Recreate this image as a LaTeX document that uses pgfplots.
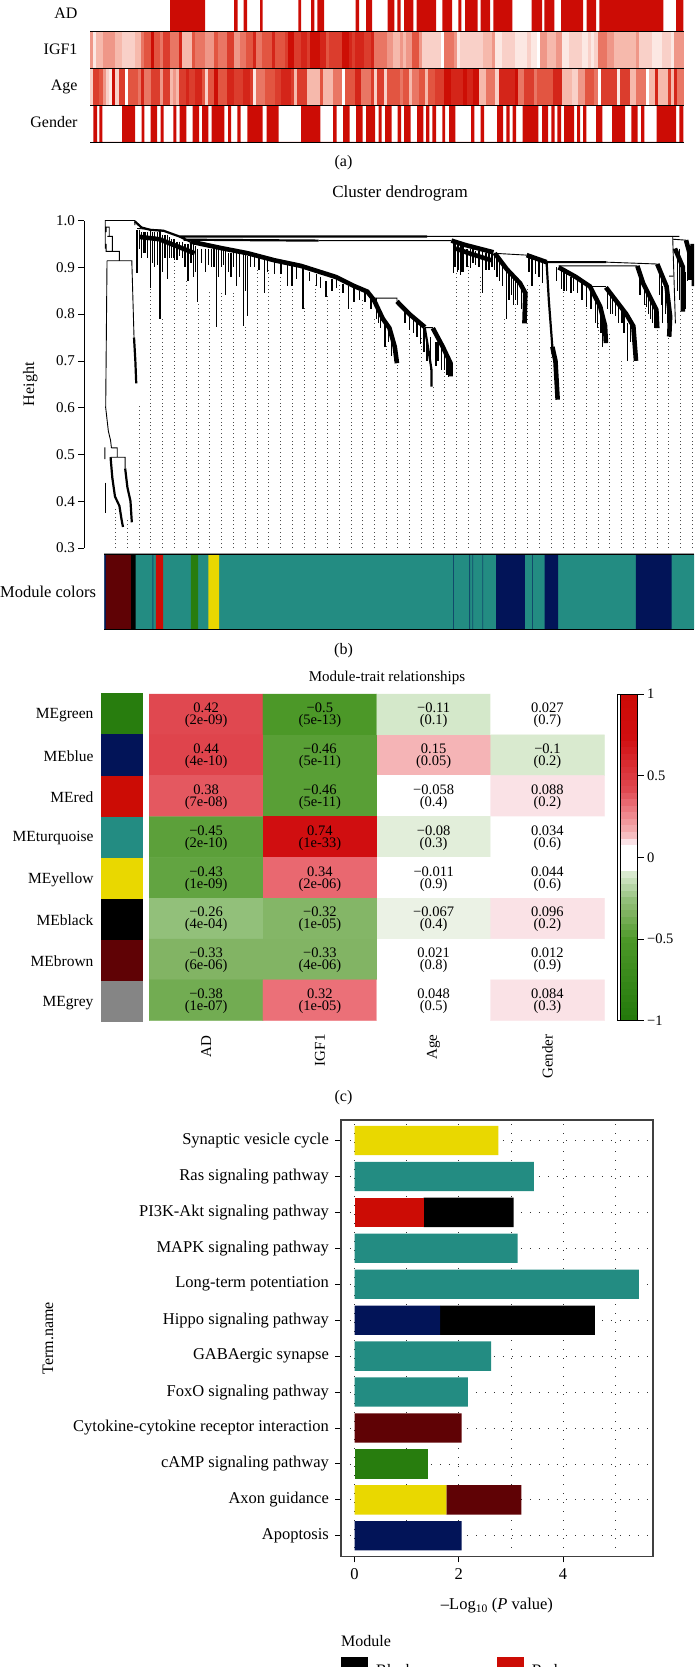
\documentclass[border=0pt]{standalone}
\usepackage{fontspec}
\setmainfont{Liberation Serif}
\usepackage{pgfplots}
\pgfplotsset{compat=1.18}
\definecolor{cred}{RGB}{204,12,5}
\definecolor{cturq}{RGB}{35,140,130}
\definecolor{cnavy}{RGB}{2,20,88}
\definecolor{cgreen}{RGB}{40,125,14}
\definecolor{cyell}{RGB}{233,216,0}
\definecolor{cbrown}{RGB}{95,2,5}
\definecolor{cgrey}{RGB}{133,133,133}
\newcommand\fs[1]{\fontsize{#1}{#1}\selectfont}
\pgfdeclareplotmark{cell}{\pgfpathrectangle{\pgfpoint{-1.75pt}{-18pt}}{\pgfpoint{3.5pt}{36pt}}\pgfusepathqfill}
\pgfplotsset{
 strip/.style={scale only axis,width=594pt,height=36pt,xmin=90,xmax=684,ymin=0,ymax=1,hide axis,clip=true},
 stripc/.style={scale only axis,width=594pt,height=36pt,xmin=-0.5,xmax=185.5,ymin=0,ymax=1,hide axis,
   colormap={wr}{rgb255(0pt)=(255,255,255); rgb255(3pt)=(246,185,172); rgb255(6pt)=(226,85,65); rgb255(9pt)=(205,14,5)},point meta min=0,point meta max=9},
 cellplot/.style={scatter,only marks,mark=cell,point meta=explicit,scatter/use mapped color={draw=none,fill=mapped color}},
}
\begin{document}
\begin{tikzpicture}[x=1pt,y=1pt]
\path[use as bounding box] (0,0) rectangle (694,-1667);
\clip (0,0) rectangle (694,-1667);
% ---------------- panel a
\begin{axis}[strip,height=32pt,at={(90pt,-32pt)}]
\addplot[const plot,fill=cred,draw=none] coordinates {(170,1)(205,0)(234,1)(237.7,0)(243.7,1)(247,0)(260,1)(262.7,0)(298.3,1)(301,0)(311,1)(314.3,0)(317.3,1)(324,0)(355.7,1)(359,0)(366,1)(372,0)(387.7,1)(394.3,0)(397.3,1)(400.7,0)(404,1)(413.3,0)(416.7,1)(436,0)(442.3,1)(452,0)(458.3,1)(461.3,0)(465,1)(477.7,0)(480.7,1)(490,0)(493.3,1)(512.3,0)(531.7,1)(542,0)(544.3,1)(554.3,0)(561,1)(583,0)(586.7,1)(596,0)(599.3,1)(663.3,0)(676,1)(683.3,0)} \closedcycle;
\end{axis}
\begin{axis}[stripc,at={(90pt,-68.5pt)}]
\addplot[cellplot] table[x expr=\coordindex,y expr=0.5,meta index=0,header=false,row sep=\\]{4\\1\\3\\3\\4\\4\\4\\4\\3\\3\\2\\2\\2\\2\\3\\3\\5\\6\\6\\9\\6\\6\\5\\7\\7\\5\\5\\5\\8\\3\\3\\3\\6\\5\\5\\5\\4\\4\\4\\6\\5\\5\\5\\7\\7\\4\\4\\5\\5\\6\\6\\8\\5\\5\\6\\6\\6\\8\\6\\6\\6\\7\\9\\9\\7\\7\\8\\8\\7\\9\\9\\9\\8\\8\\6\\7\\7\\7\\7\\9\\9\\8\\7\\8\\8\\8\\7\\7\\8\\5\\5\\5\\5\\4\\4\\3\\3\\4\\3\\4\\4\\6\\6\\4\\2\\2\\2\\2\\2\\2\\0\\5\\5\\5\\4\\1\\2\\2\\2\\2\\2\\2\\2\\3\\3\\3\\4\\1\\1\\2\\2\\2\\2\\1\\1\\1\\1\\2\\1\\1\\0\\4\\4\\3\\3\\3\\4\\4\\1\\1\\2\\2\\2\\2\\1\\1\\2\\1\\2\\5\\5\\5\\4\\4\\3\\3\\3\\3\\3\\3\\3\\4\\2\\2\\2\\2\\1\\1\\1\\2\\2\\2\\1\\4\\4\\4\\};
\end{axis}
\begin{axis}[stripc,at={(90pt,-105.5pt)}]
\addplot[cellplot] table[x expr=\coordindex,y expr=0.5,meta index=0,header=false,row sep=\\]{2\\7\\7\\6\\4\\2\\1\\9\\2\\7\\7\\0\\6\\6\\6\\5\\8\\5\\5\\7\\7\\7\\4\\7\\7\\3\\4\\3\\7\\7\\8\\7\\7\\8\\8\\6\\2\\6\\6\\9\\6\\6\\6\\8\\8\\7\\7\\7\\8\\8\\7\\1\\5\\5\\5\\6\\6\\6\\7\\7\\8\\8\\8\\7\\3\\7\\7\\7\\3\\3\\3\\3\\6\\3\\3\\3\\5\\5\\5\\0\\6\\6\\6\\8\\8\\5\\5\\5\\7\\2\\7\\7\\2\\6\\6\\6\\6\\5\\6\\6\\3\\5\\5\\6\\6\\3\\6\\6\\7\\7\\7\\9\\9\\8\\8\\8\\8\\9\\8\\8\\9\\9\\3\\3\\5\\5\\5\\2\\8\\8\\8\\8\\8\\9\\5\\5\\7\\7\\7\\5\\6\\6\\6\\6\\6\\8\\8\\8\\3\\3\\3\\2\\2\\4\\4\\6\\6\\6\\5\\0\\7\\7\\7\\7\\7\\1\\7\\7\\7\\3\\3\\5\\5\\5\\0\\3\\3\\8\\3\\3\\3\\7\\3\\8\\5\\5\\};
\end{axis}
\begin{axis}[strip,at={(90pt,-142pt)}]
\addplot[const plot,fill=cred,draw=none] coordinates {(93.3,1)(97,0)(99.3,1)(102.3,0)(122,1)(135,0)(141.7,1)(144.3,0)(150.7,1)(157,0)(160.7,1)(163.7,0)(173.3,1)(176.3,0)(179.7,1)(186.3,0)(192.7,1)(199,0)(202,1)(208.3,0)(211.7,1)(224.3,0)(228,1)(231,0)(237.3,1)(240.7,0)(247.3,1)(262.7,0)(266.7,1)(278.7,0)(301,1)(320.3,0)(333,1)(336.7,0)(343,1)(349.7,0)(356,1)(362.7,0)(366,1)(375,0)(378.7,1)(381.7,0)(385,1)(391.7,0)(397.7,1)(401,0)(404,1)(410.7,0)(417,1)(423.3,0)(426,1)(429.3,0)(432.3,1)(436,0)(442.3,1)(445,0)(449,1)(455.3,0)(471,1)(474.3,0)(480.7,1)(484,0)(497,1)(503,0)(506.3,1)(509.7,0)(512.7,1)(516,0)(522.7,1)(538.3,0)(542,1)(548,0)(551.3,1)(554.7,0)(557.3,1)(561,0)(564,1)(574,0)(577,1)(580,0)(583,1)(586.3,0)(596,1)(602.3,0)(612,1)(625,0)(631.3,1)(637.7,0)(641,1)(644.3,0)(656.7,1)(676,0)(679.3,1)(683.3,0)} \closedcycle;
\end{axis}
\foreach \y in {31.5,68.5,105.5,142}{\draw[black,line width=0.9pt] (90,-\y)--(684,-\y);}
\node[anchor=east,font=\fs{16}] at (81,-13) {AD};
\node[anchor=east,font=\fs{16}] at (81,-49) {IGF1};
\node[anchor=east,font=\fs{16}] at (81,-87) {Age};
\node[anchor=east,font=\fs{16}] at (81,-122) {Gender};
\node[font=\fs{16}] at (343.5,-163) {(a)};
% ---------------- panel b
\node[font=\fs{17}] at (400,-193) {Cluster dendrogram};
\begin{axis}[scale only axis,width=610pt,height=327.5pt,at={(84pt,-548pt)},
  xmin=190,xmax=1568,ymin=0.3,ymax=1,axis y line=left,hide x axis,axis line style={-,line width=0.7pt},
  ytick={0.3,0.4,0.5,0.6,0.7,0.8,0.9,1},yticklabels={0.3,0.4,0.5,0.6,0.7,0.8,0.9,1.0},
  tick align=outside,major tick length=5.5pt,tick style={black,line width=0.7pt},
  tick label style={font=\fs{15}},ylabel={Height},ylabel style={font=\fs{16},at={(axis description cs:0,0.5)},yshift=43pt},
  unbounded coords=jump,clip=true]
% guide lines
\addplot[ycomb,black!70,line width=0.8pt,dash pattern=on 1pt off 2.8pt,mark=none] coordinates {
(262,.389)(288,.361)(315,.603)(341,.859)(368,.795)(395,.916)(421,.873)(448,.827)(474,.852)(501,.845)(527,.845)(554,.774)(581,.895)(607,.895)(634,.898)(660,.859)(687,.813)(713,.866)(740,.838)(766,.863)(793,.813)(819,.831)(846,.795)(873,.731)(899,.695)(926,.759)(952,.752)(979,.645)(1005,.688)(1032,.888)(1059,.902)(1085,.880)(1112,.859)(1139,.795)(1165,.823)(1192,.866)(1218,.866)(1245,.766)(1272,.852)(1298,.831)(1325,.816)(1351,.781)(1378,.759)(1405,.702)(1431,.702)(1458,.823)(1485,.770)(1511,.752)(1538,.809)(1565,.866)};
% thin brackets
\addplot[black,line width=0.9pt,mark=none] coordinates {
(238,.94)(238,1)(305,1)(305,.99)(0,nan)
(240,.975)(240,.986)(247,.986)(247,.965)(0,nan)
(243,.966)(254,.966)(254,.934)(0,nan)
(240,.95)(240,.934)(270,.934)(270,.914)(0,nan)
(242,.914)(298,.914)(303,.75)(0,nan)
(242,.914)(239,.60)(245,.55)(250,.53)(252,.514)(0,nan)
(252,.514)(265,.514)(265,.494)(0,nan)
(250,.494)(283,.494)(283,.47)(0,nan)
(237,.515)(237,.49)(0,nan)
(310,.983)(370,.979)(0,nan)
(475,.944)(495,.944)(0,nan)(538,.933)(558,.933)(0,nan)
(845,.834)(897,.834)(897,.827)(0,nan)
(960,.771)(978,.771)(0,nan)
(965,.966)(1535,.966)(0,nan)
(720,.957)(1020,.957)(0,nan)
(1115,.930)(1190,.926)(0,nan)
(1370,.911)(1485,.907)(0,nan)
(1262,.903)(1440,.903)(0,nan)
(1333,.859)(1369,.859)(0,nan)
(1512,.881)(1520,.881)(0,nan)
(1520,.966)(1520,.96)(1550,.958)(0,nan)
(1520,.96)(1526,.78)(0,nan)
};
% spikes
\addplot[black,line width=1.3pt,mark=none] coordinates {
(239,.44)(239,.375)(0,nan)
(310,.98)(310,.888)(0,nan)(320,.975)(320,.92)(0,nan)(328,.975)(328,.93)(0,nan)(340,.98)(340,.856)(0,nan)(350,.975)(350,.90)(0,nan)(362,.977)(362,.79)(0,nan)(378,.97)(378,.874)(0,nan)(388,.96)(388,.92)(0,nan)(395,.96)(395,.916)(0,nan)(405,.955)(405,.925)(0,nan)(412,.955)(412,.92)(0,nan)(425,.95)(425,.87)(0,nan)(438,.95)(438,.88)(0,nan)(447,.94)(447,.825)(0,nan)(465,.94)(465,.89)(0,nan)(478,.94)(478,.90)(0,nan)(490,.94)(490,.773)(0,nan)(500,.94)(500,.90)(0,nan)(510,.935)(510,.84)(0,nan)(522,.93)(522,.88)(0,nan)(535,.93)(535,.86)(0,nan)(550,.93)(550,.774)(0,nan)(560,.925)(560,.795)(0,nan)(575,.925)(575,.90)(0,nan)(597,.92)(597,.845)(0,nan)(620,.915)(620,.885)(0,nan)(650,.905)(650,.86)(0,nan)(660,.905)(660,.86)(0,nan)(685,.90)(685,.81)(0,nan)(715,.885)(715,.86)(0,nan)(737,.87)(737,.837)(0,nan)(760,.875)(760,.855)(0,nan)(788,.86)(788,.81)(0,nan)(800,.855)(800,.825)(0,nan)(825,.845)(825,.825)(0,nan)(850,.835)(850,.79)(0,nan)(860,.81)(860,.77)(0,nan)(870,.79)(870,.73)(0,nan)(878,.78)(878,.74)(0,nan)(935,.79)(935,.76)(0,nan)(950,.78)(950,.735)(0,nan)(965,.74)(965,.70)(0,nan)(990,.74)(990,.70)(0,nan)(1005,.715)(1005,.68)(0,nan)
(1025,.955)(1025,.888)(0,nan)(1033,.95)(1033,.89)(0,nan)(1040,.945)(1040,.884)(0,nan)(1048,.945)(1048,.89)(0,nan)(1063,.94)(1063,.898)(0,nan)(1075,.935)(1075,.905)(0,nan)(1090,.935)(1090,.845)(0,nan)(1105,.93)(1105,.895)(0,nan)(1118,.93)(1118,.894)(0,nan)(1128,.92)(1128,.87)(0,nan)(1145,.895)(1145,.79)(0,nan)(1155,.88)(1155,.84)(0,nan)(1165,.875)(1165,.83)(0,nan)(1178,.865)(1178,.81)(0,nan)(1202,.92)(1202,.859)(0,nan)(1225,.91)(1225,.866)(0,nan)(1268,.895)(1268,.853)(0,nan)(1280,.885)(1280,.85)(0,nan)(1290,.88)(1290,.845)(0,nan)(1305,.875)(1305,.845)(0,nan)(1325,.865)(1325,.816)(0,nan)(1345,.845)(1345,.78)(0,nan)(1362,.815)(1362,.73)(0,nan)(1380,.84)(1380,.80)(0,nan)(1390,.825)(1390,.795)(0,nan)(1405,.81)(1405,.78)(0,nan)(1418,.78)(1418,.699)(0,nan)(1460,.855)(1460,.815)(0,nan)(1470,.84)(1470,.79)(0,nan)(1480,.82)(1480,.77)(0,nan)(1497,.86)(1497,.781)(0,nan)(1503,.85)(1503,.80)(0,nan)(1535,.94)(1535,.83)(0,nan)(1553,.93)(1553,.87)(0,nan)
(315,.98)(315,.94)(0,nan)(324,.975)(324,.93)(0,nan)(333,.975)(333,.92)(0,nan)(345,.975)(345,.91)(0,nan)(356,.975)(356,.905)(0,nan)(368,.97)(368,.89)(0,nan)(373,.97)(373,.92)(0,nan)(383,.965)(383,.92)(0,nan)(392,.96)(392,.92)(0,nan)(400,.955)(400,.915)(0,nan)(418,.95)(418,.90)(0,nan)(432,.95)(432,.91)(0,nan)(442,.945)(442,.89)(0,nan)(455,.94)(455,.91)(0,nan)(472,.94)(472,.905)(0,nan)(484,.94)(484,.90)(0,nan)(494,.94)(494,.88)(0,nan)(505,.94)(505,.905)(0,nan)(516,.93)(516,.89)(0,nan)(528,.93)(528,.90)(0,nan)(542,.93)(542,.88)(0,nan)(555,.93)(555,.85)(0,nan)(566,.925)(566,.90)(0,nan)(585,.92)(585,.895)(0,nan)(605,.915)(605,.89)(0,nan)(635,.91)(635,.885)(0,nan)(670,.905)(670,.875)(0,nan)(700,.89)(700,.87)(0,nan)(725,.88)(725,.855)(0,nan)(750,.875)(750,.85)(0,nan)(775,.865)(775,.845)(0,nan)(812,.85)(812,.83)(0,nan)(838,.84)(838,.81)(0,nan)(856,.82)(856,.78)(0,nan)(885,.76)(885,.71)(0,nan)(892,.745)(892,.70)(0,nan)(915,.81)(915,.78)(0,nan)(925,.80)(925,.765)(0,nan)(942,.785)(942,.75)(0,nan)(958,.77)(958,.72)(0,nan)(972,.75)(972,.68)(0,nan)(985,.74)(985,.69)(0,nan)(997,.73)(997,.68)(0,nan)(1010,.71)(1010,.67)(0,nan)(1014,.70)(1014,.665)(0,nan)
(1028,.955)(1028,.90)(0,nan)(1036,.95)(1036,.895)(0,nan)(1044,.945)(1044,.89)(0,nan)(1055,.94)(1055,.90)(0,nan)(1069,.94)(1069,.91)(0,nan)(1082,.935)(1082,.90)(0,nan)(1098,.93)(1098,.895)(0,nan)(1112,.93)(1112,.90)(0,nan)(1123,.925)(1123,.88)(0,nan)(1135,.91)(1135,.86)(0,nan)(1150,.89)(1150,.83)(0,nan)(1160,.88)(1160,.82)(0,nan)(1170,.87)(1170,.82)(0,nan)(1183,.85)(1183,.79)(0,nan)(1195,.925)(1195,.89)(0,nan)(1210,.92)(1210,.885)(0,nan)(1218,.915)(1218,.88)(0,nan)(1258,.90)(1258,.87)(0,nan)(1274,.89)(1274,.85)(0,nan)(1296,.88)(1296,.85)(0,nan)(1315,.87)(1315,.83)(0,nan)(1335,.855)(1335,.81)(0,nan)(1350,.835)(1350,.77)(0,nan)(1358,.815)(1358,.76)(0,nan)(1372,.85)(1372,.81)(0,nan)(1384,.84)(1384,.80)(0,nan)(1398,.82)(1398,.78)(0,nan)(1410,.80)(1410,.76)(0,nan)(1425,.78)(1425,.74)(0,nan)(1434,.76)(1434,.71)(0,nan)(1446,.88)(1446,.84)(0,nan)(1456,.86)(1456,.82)(0,nan)(1465,.845)(1465,.80)(0,nan)(1475,.83)(1475,.78)(0,nan)(1490,.89)(1490,.84)(0,nan)(1494,.875)(1494,.82)(0,nan)(1508,.84)(1508,.78)(0,nan)(1514,.80)(1514,.75)(0,nan)(1530,.93)(1530,.85)(0,nan)(1540,.90)(1540,.84)(0,nan)(1548,.89)(1548,.81)(0,nan)(1556,.94)(1556,.89)
};
% ridges
\addplot[black,line width=2.2pt,mark=none] coordinates {
(405,.966)(965,.966)(0,nan)(415,.959)(720,.957)(0,nan)
(305,.998)(320,.985)(340,.98)(370,.978)(405,.966)(430,.955)(0,nan)
(1235,.911)(1370,.911)(0,nan)
(303,.75)(306,.70)(308,.652)(0,nan)
(283,.47)(288,.43)(295,.40)(298,.355)(0,nan)
(250,.494)(254,.45)(260,.41)(270,.39)(275,.36)(278,.345)(0,nan)
(1235,.911)(1240,.83)(1248,.73)(0,nan)
(960,.77)(968,.724)(975,.681)(975,.645)
};
\addplot[black,line width=4.6pt,mark=none] coordinates {
(315,.965)(360,.96)(400,.945)(440,.93)(0,nan)
(430,.955)(500,.941)(560,.93)(620,.915)(680,.903)(760,.879)(800,.86)(830,.848)(845,.83)(865,.79)(880,.77)(892,.73)(897,.695)(0,nan)
(897,.827)(925,.80)(960,.772)(0,nan)
(978,.770)(1000,.731)(1018,.695)(1018,.667)(0,nan)
(1020,.957)(1050,.948)(1115,.932)(0,nan)
(1030,.94)(1060,.93)(1110,.915)(0,nan)
(1118,.93)(1145,.896)(1175,.866)(1187,.845)(1185,.78)(0,nan)
(1190,.926)(1235,.911)(0,nan)
(1248,.73)(1255,.70)(1260,.617)(0,nan)
(1262,.90)(1300,.88)(1333,.859)(1356,.816)(1367,.775)(1369,.738)(0,nan)
(1369,.857)(1415,.80)(1431,.774)(1437,.70)(0,nan)
(1440,.903)(1453,.866)(1483,.809)(1485,.77)(0,nan)
(1485,.907)(1506,.859)(1514,.795)(1512,.752)(0,nan)
(1525,.94)(1543,.90)(1543,.805)(0,nan)
(1550,.958)(1558,.93)(1560,.873)(0,nan)
(1565,.95)(1568,.86)
};
\end{axis}
\draw[gray!80,line width=0.8pt] (104.3,-553)--(694,-553);
\begin{axis}[scale only axis,width=590pt,height=75pt,at={(104.3pt,-629pt)},xmin=104.3,xmax=694.3,ymin=0,ymax=1,hide axis]
\addplot[const plot,fill=cturq,draw=none] coordinates {(104.3,1)(694.3,0)} \closedcycle;
\addplot[const plot,fill=cnavy!55!cturq,draw=none] coordinates {(152.3,1)(153.3,0)(453,1)(453.8,0)(469,1)(470,0)(472.3,1)(473,0)(482.3,1)(483,0)(532,1)(532.8,0)} \closedcycle;
\addplot[const plot,fill=cnavy,draw=none] coordinates {(104.3,1)(105.8,0)(496,1)(524.9,0)(544.5,1)(558,0)(635.8,1)(671.7,0)} \closedcycle;
\addplot[const plot,fill=cbrown,draw=none] coordinates {(105.8,1)(131.2,0)} \closedcycle;
\addplot[const plot,fill=black,draw=none] coordinates {(131.2,1)(135.5,0)} \closedcycle;
\addplot[const plot,fill=cred,draw=none] coordinates {(155.9,1)(163.2,0)} \closedcycle;
\addplot[const plot,fill=cgreen,draw=none] coordinates {(190.9,1)(198.2,0)} \closedcycle;
\addplot[const plot,fill=cyell,draw=none] coordinates {(208.3,1)(219,0)} \closedcycle;
\end{axis}
\draw[black,line width=0.9pt] (104.3,-554)--(694,-554) (104.3,-629)--(694,-629);
\node[anchor=west,font=\fs{16.5},inner sep=0pt] at (0,-591.5) {Module colors};
\node[font=\fs{16}] at (343.5,-650.5) {(b)};
% ---------------- panel c
\node[font=\fs{15}] at (387,-678) {Module-trait relationships};
\begin{axis}[scale only axis,width=42pt,height=329pt,at={(101pt,-1022.3pt)},xmin=0,xmax=1,ymin=-0.5,ymax=7.5,y dir=reverse,
  axis line style={draw=none},xtick=\empty,ytick={0,1,2,3,4,5,6,7},
  yticklabels={MEgreen,MEblue,MEred,MEturquoise,MEyellow,MEblack,MEbrown,MEgrey},
  major tick length=0pt,tick label style={font=\fs{15.5}},yticklabel style={xshift=-4pt,yshift=-1pt},
  xbar,bar shift=0pt,bar width=41.1pt]
\addplot[fill=cgreen,draw=none] coordinates {(1,0)};
\addplot[fill=cnavy,draw=none] coordinates {(1,1)};
\addplot[fill=cred,draw=none] coordinates {(1,2)};
\addplot[fill=cturq,draw=none] coordinates {(1,3)};
\addplot[fill=cyell,draw=none] coordinates {(1,4)};
\addplot[fill=black,draw=none] coordinates {(1,5)};
\addplot[fill=cbrown,draw=none] coordinates {(1,6)};
\addplot[fill=cgrey,draw=none] coordinates {(1,7)};
\end{axis}
\begin{axis}[scale only axis,width=455.1pt,height=326.7pt,at={(149.2pt,-1020.7pt)},
  xmin=-0.5,xmax=3.5,ymin=-0.5,ymax=7.5,y dir=reverse,hide axis,clip=false,
  point meta min=-1,point meta max=1,
  colormap={gwr}{rgb255(0pt)=(34,120,10); rgb255(250pt)=(76,152,40); rgb255(335pt)=(130,180,100); rgb255(370pt)=(146,192,122); rgb255(445pt)=(212,232,202); rgb255(466pt)=(232,240,225); rgb255(470pt)=(255,255,255); rgb255(530pt)=(255,255,255); rgb255(540pt)=(250,226,230); rgb255(550pt)=(250,226,230); rgb255(575pt)=(245,180,182); rgb255(660pt)=(235,112,120); rgb255(710pt)=(224,72,80); rgb255(870pt)=(208,14,16); rgb255(1000pt)=(204,10,5)},
  colorbar sampled,
  colorbar style={samples=51,width=17.3pt,xshift=7.5pt,ytick={-1,-0.5,0,0.5,1},yticklabels={−1,−0.5,0,0.5,1},
    ytick pos=right,yticklabel pos=right,tick align=outside,major tick length=6pt,
    tick style={black,line width=0.7pt},tick label style={font=\fs{14.5}},
    axis line style={black,line width=0.9pt}}]
\addplot[matrix plot*,mesh/cols=4,point meta=explicit] table[x=x,y=y,meta=c]{
x y c
0 0 0.42
1 0 -0.5
2 0 -0.11
3 0 0.027
0 1 0.44
1 1 -0.46
2 1 0.15
3 1 -0.1
0 2 0.38
1 2 -0.46
2 2 -0.058
3 2 0.088
0 3 -0.45
1 3 0.74
2 3 -0.08
3 3 0.034
0 4 -0.43
1 4 0.34
2 4 -0.011
3 4 0.044
0 5 -0.26
1 5 -0.32
2 5 -0.067
3 5 0.096
0 6 -0.33
1 6 -0.33
2 6 0.021
3 6 0.012
0 7 -0.38
1 7 0.32
2 7 0.048
3 7 0.084
};
\newcommand\cellt[3]{\node[font=\fontsize{14.5}{12}\selectfont,align=center,yshift=-1pt] at (axis cs:#1,#2) {#3};}
\cellt{0}{0}{0.42\\(2e-09)}\cellt{1}{0}{−0.5\\(5e-13)}\cellt{2}{0}{−0.11\\(0.1)}\cellt{3}{0}{0.027\\(0.7)}
\cellt{0}{1}{0.44\\(4e-10)}\cellt{1}{1}{−0.46\\(5e-11)}\cellt{2}{1}{0.15\\(0.05)}\cellt{3}{1}{−0.1\\(0.2)}
\cellt{0}{2}{0.38\\(7e-08)}\cellt{1}{2}{−0.46\\(5e-11)}\cellt{2}{2}{−0.058\\(0.4)}\cellt{3}{2}{0.088\\(0.2)}
\cellt{0}{3}{−0.45\\(2e-10)}\cellt{1}{3}{0.74\\(1e-33)}\cellt{2}{3}{−0.08\\(0.3)}\cellt{3}{3}{0.034\\(0.6)}
\cellt{0}{4}{−0.43\\(1e-09)}\cellt{1}{4}{0.34\\(2e-06)}\cellt{2}{4}{−0.011\\(0.9)}\cellt{3}{4}{0.044\\(0.6)}
\cellt{0}{5}{−0.26\\(4e-04)}\cellt{1}{5}{−0.32\\(1e-05)}\cellt{2}{5}{−0.067\\(0.4)}\cellt{3}{5}{0.096\\(0.2)}
\cellt{0}{6}{−0.33\\(6e-06)}\cellt{1}{6}{−0.33\\(4e-06)}\cellt{2}{6}{0.021\\(0.8)}\cellt{3}{6}{0.012\\(0.9)}
\cellt{0}{7}{−0.38\\(1e-07)}\cellt{1}{7}{0.32\\(1e-05)}\cellt{2}{7}{0.048\\(0.5)}\cellt{3}{7}{0.084\\(0.3)}
\node[rotate=90,anchor=east,font=\fs{15},xshift=-1pt] at (axis cs:0,7.75) {AD};
\node[rotate=90,anchor=east,font=\fs{15}] at (axis cs:1,7.75) {IGF1};
\node[rotate=90,anchor=east,font=\fs{15}] at (axis cs:2,7.75) {Age};
\node[rotate=90,anchor=east,font=\fs{15}] at (axis cs:3,7.75) {Gender};
\end{axis}
\draw[black,line width=0.8pt] (617,-694)--(617,-1020.7);
\draw[black,line width=0.8pt] (617,-694)--(637,-694) (617,-1020.7)--(637,-1020.7);
\node[font=\fs{16}] at (343.5,-1098) {(c)};
% ---------------- panel d
\begin{axis}[scale only axis,width=312.1pt,height=436.9pt,at={(340.9pt,-1556.8pt)},
  xmin=-0.263,xmax=5.727,ymin=0.416,ymax=12.573,xbar stacked,bar width=29.3pt,
  ytick={1,...,12},yticklabels={Apoptosis,Axon guidance,cAMP signaling pathway,Cytokine-cytokine receptor interaction,FoxO signaling pathway,GABAergic synapse,Hippo signaling pathway,Long-term potentiation,MAPK signaling pathway,PI3K-Akt signaling pathway,Ras signaling pathway,Synaptic vesicle cycle},
  xtick={0,2,4},xticklabels={0,2,4},minor xtick={1,3,5},
  xtick pos=bottom,ytick pos=left,tick align=outside,major tick length=5.5pt,minor tick length=0pt,
  tick style={black,line width=1pt},tick label style={font=\fs{16.5}},
  xticklabel style={yshift=-3pt},yticklabel style={xshift=-3pt},
  axis line style={draw=black!75,line width=1.3pt},
  grid=both,grid style={black!80,line width=0.8pt,dash pattern=on 1pt off 8pt},minor grid style={black!80,line width=0.8pt,dash pattern=on 1pt off 8pt},
  xlabel={–Log\textsubscript{10} (\textit{P} value)},xlabel style={font=\fs{16.5},at={(axis description cs:0.5,0)},yshift=-38pt},
  ylabel={Term.name},ylabel style={font=\fs{16},at={(axis description cs:0,0.5)},yshift=284pt}]
\addplot[fill=cyell,draw=none] coordinates {(0,1)(1.76,2)(0,3)(0,4)(0,5)(0,6)(0,7)(0,8)(0,9)(0,10)(0,11)(2.76,12)};
\addplot[fill=cred,draw=none] coordinates {(0,1)(0,2)(0,3)(0,4)(0,5)(0,6)(0,7)(0,8)(0,9)(1.325,10)(0,11)(0,12)};
\addplot[fill=cnavy,draw=none] coordinates {(2.055,1)(0,2)(0,3)(0,4)(0,5)(0,6)(1.64,7)(0,8)(0,9)(0,10)(0,11)(0,12)};
\addplot[fill=cgreen,draw=none] coordinates {(0,1)(0,2)(1.40,3)(0,4)(0,5)(0,6)(0,7)(0,8)(0,9)(0,10)(0,11)(0,12)};
\addplot[fill=cturq,draw=none] coordinates {(0,1)(0,2)(0,3)(0,4)(2.175,5)(2.62,6)(0,7)(5.455,8)(3.13,9)(0,10)(3.44,11)(0,12)};
\addplot[fill=cbrown,draw=none] coordinates {(0,1)(1.44,2)(0,3)(2.055,4)(0,5)(0,6)(0,7)(0,8)(0,9)(0,10)(0,11)(0,12)};
\addplot[fill=black,draw=none] coordinates {(0,1)(0,2)(0,3)(0,4)(0,5)(0,6)(2.97,7)(0,8)(0,9)(1.725,10)(0,11)(0,12)};
\end{axis}
% legend
\node[anchor=west,font=\fs{16},inner sep=0pt] at (341,-1641.5) {Module};
\fill[black] (340.7,-1656.7) rectangle (367.7,-1684);
\fill[cred] (496.7,-1656.7) rectangle (523.7,-1684);
\node[anchor=base west,font=\fs{16},inner sep=0pt] at (376,-1675) {Black};
\node[anchor=base west,font=\fs{16},inner sep=0pt] at (531.7,-1675) {Red};
\end{tikzpicture}
\end{document}
